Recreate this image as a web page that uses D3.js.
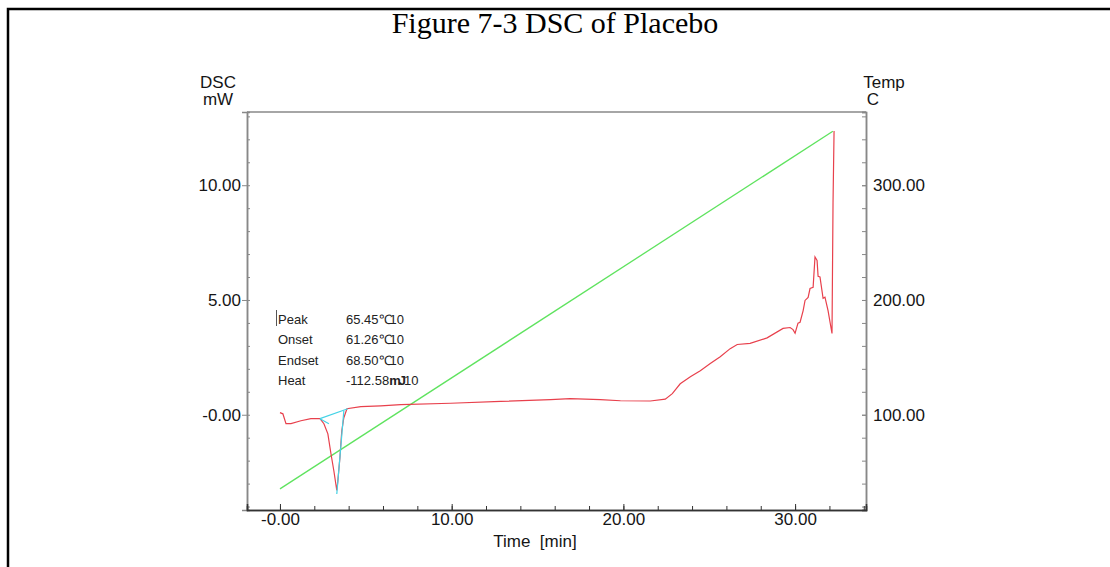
<!DOCTYPE html>
<html>
<head>
<meta charset="utf-8">
<script src="https://cdn.jsdelivr.net/npm/d3@7"></script>
<style>
  body { margin: 0; background: #fff; }
  svg { display: block; }
</style>
</head>
<body>
<svg></svg>
<script>
// DSC trace (time in min, heat flow in mW)
let dscTime = [0.00, 0.17, 0.35, 0.64, 1.22, 1.80, 2.33, 2.56, 2.79, 2.97, 3.14, 3.31, 3.37, 3.49, 3.60, 3.72, 3.90,
               4.71, 5.87, 7.03, 9.94, 12.85, 15.76, 16.90, 18.66, 19.83, 21.57, 22.44, 22.85, 23.31, 23.90,
               24.48, 25.06, 25.64, 26.22, 26.63, 27.38, 28.37, 29.30, 29.71, 29.88, 30.00, 30.17, 30.29,
               30.47, 30.58, 30.76, 30.87, 31.05, 31.16, 31.28, 31.34, 31.45, 31.63, 31.74, 31.92, 32.15,
               32.21, 32.27]
let dscValue = [0.09, 0.04, -0.39, -0.39, -0.26, -0.17, -0.17, -0.39, -0.83, -1.70, -2.45, -3.30, -2.88, -1.88, -0.70, -0.13, 0.26,
                0.35, 0.39, 0.44, 0.50, 0.58, 0.66, 0.70, 0.66, 0.61, 0.60, 0.68, 0.92, 1.35, 1.66,
                1.92, 2.23, 2.53, 2.88, 3.06, 3.11, 3.35, 3.76, 3.80, 3.71, 3.55, 3.99, 4.03,
                4.54, 4.98, 5.11, 5.50, 5.55, 6.87, 6.72, 6.03, 6.00, 5.07, 5.12, 4.54, 3.54,
                9.26, 12.36]

// temperature program (min, C)
let tempTime = [0.00, 32.20]
let tempValue = [35.4, 347.0]

// peak analysis helper lines (min, mW)
let baseTime = [2.33, 3.95], baseValue = [-0.17, 0.26]
let onsetTime = [2.33, 2.85], onsetValue = [-0.17, -0.39]
let endTime = [3.72, 3.31], endValue = [0.17, -3.45]

// ticks
let xMajor = [0, 10, 20, 30]
let xLabels = ['-0.00', '10.00', '20.00', '30.00']
let yMajor = [0, 5, 10]
let yLabels = ['-0.00', '5.00', '10.00']
let tMajor = [100, 200, 300]
let tLabels = ['100.00', '200.00', '300.00']

// peak table
let infoNames = ['Peak', 'Onset', 'Endset', 'Heat']
let infoValues = ['65.45', '61.26', '68.50', '-112.58']
let infoUnits = ['\u2103', '\u2103', '\u2103', 'mJ']

let width = 1110, height = 567
let box = {left: 247, right: 866, top: 112, bottom: 510}
let axisFont = 'Liberation Sans, Arial, sans-serif'

let svg = d3.select('svg').attr('width', width).attr('height', height)

// frame round the figure
svg.append('path')
   .attr('d', 'M8,567 V9 H1110')
   .attr('fill', 'none')
   .attr('stroke', '#000')
   .attr('stroke-width', 2.5)

svg.append('text')
   .attr('x', 555).attr('y', 33)
   .attr('text-anchor', 'middle')
   .style('font-family', 'Liberation Serif, Times New Roman, serif')
   .style('font-size', '30px')
   .text('Figure 7-3 DSC of Placebo')

let x = d3.scaleLinear().domain([-1.92, 34.13]).range([box.left, box.right])
let yDsc = d3.scaleLinear().domain([-4.15, 13.19]).range([box.bottom, box.top])
let yTemp = d3.scaleLinear().domain([17, 363.8]).range([box.bottom, box.top])

// box top line
svg.append('line')
   .attr('x1', box.left).attr('x2', box.right).attr('y1', box.top).attr('y2', box.top)
   .attr('stroke', '#888').attr('stroke-width', 1.5)

// left axis
let gL = svg.append('g').attr('transform', 'translate(' + box.left + ',0)')
gL.call(d3.axisLeft(yDsc).tickValues(d3.range(-4, 14)).tickSize(-3).tickFormat(''))
gL.append('g').call(d3.axisLeft(yDsc).tickValues(yMajor).tickSize(5).tickPadding(1)
   .tickFormat((d, i) => yLabels[i]))
gL.selectAll('path.domain').attr('stroke', '#888').attr('stroke-width', 1.5)
gL.selectAll('line').attr('stroke', '#888')

// right axis
let gR = svg.append('g').attr('transform', 'translate(' + box.right + ',0)')
gR.call(d3.axisRight(yTemp).tickValues(d3.range(20, 361, 20)).tickSize(-4).tickFormat(''))
gR.append('g').call(d3.axisRight(yTemp).tickValues(tMajor).tickSize(-4).tickPadding(7)
   .tickFormat((d, i) => tLabels[i]))
gR.selectAll('path.domain').attr('stroke', '#888').attr('stroke-width', 1.5)
gR.selectAll('line').attr('stroke', '#888')

// bottom axis
let gB = svg.append('g').attr('transform', 'translate(0,' + box.bottom + ')')
gB.call(d3.axisBottom(x).tickValues(d3.range(0, 35, 2)).tickSize(-4).tickFormat(''))
let gBm = gB.append('g').call(d3.axisBottom(x).tickValues(xMajor).tickSize(-6).tickPadding(3)
   .tickFormat((d, i) => xLabels[i]))
gB.selectAll('path.domain').attr('stroke', '#333').attr('stroke-width', 1.5)
gB.selectAll('line').attr('stroke', '#333')
gBm.selectAll('.tick').insert('rect', 'text')
   .attr('x', -24).attr('y', 2).attr('width', 48).attr('height', 20)
   .attr('fill', '#fff')

svg.selectAll('.tick text')
   .style('font-family', axisFont)
   .style('font-size', '17px')
   .attr('fill', '#151515')

// axis titles
let titles = [
  {t: 'DSC', x: 218, y: 88}, {t: 'mW', x: 218, y: 105},
  {t: 'Temp', x: 884, y: 88}, {t: 'C', x: 873, y: 105},
  {t: 'Time  [min]', x: 535, y: 547}
]
svg.selectAll('text.title').data(titles).enter().append('text')
   .attr('class', 'title')
   .attr('x', d => d.x).attr('y', d => d.y)
   .attr('text-anchor', 'middle')
   .style('white-space', 'pre')
   .style('font-family', axisFont).style('font-size', '17px')
   .attr('fill', '#151515')
   .text(d => d.t)

// lines
let line = (xs, ys, yScale) => d3.line()(xs.map((t, i) => [x(t), yScale(ys[i])]))

svg.append('path').attr('d', line(tempTime, tempValue, yTemp))
   .attr('fill', 'none').attr('stroke', '#5fe35f').attr('stroke-width', 1.3)

svg.append('path').attr('d', line(dscTime, dscValue, yDsc))
   .attr('fill', 'none').attr('stroke', '#e8404c').attr('stroke-width', 1.2)

;[[baseTime, baseValue], [onsetTime, onsetValue], [endTime, endValue]].forEach(p => {
  svg.append('path').attr('d', line(p[0], p[1], yDsc))
     .attr('fill', 'none').attr('stroke', '#45d3e6').attr('stroke-width', 1.2)
})

// peak table
let info = svg.append('g')
  .style('font-family', axisFont).style('font-size', '13px').attr('fill', '#222')
infoNames.forEach((n, i) => {
  let yy = 324 + i * 20.3
  info.append('text').attr('x', 278).attr('y', yy).text(n)
  let t = info.append('text').attr('x', 346).attr('y', yy)
  t.append('tspan').text(infoValues[i])
  t.append('tspan').style('letter-spacing', '-2px')
   .style('font-weight', i < 3 ? 'normal' : 'bold').text(infoUnits[i])
  t.append('tspan').text('10')
})
svg.append('line').attr('x1', 276.5).attr('x2', 276.5).attr('y1', 310).attr('y2', 326)
   .attr('stroke', '#555').attr('stroke-width', 1)
</script>
</body>
</html>
